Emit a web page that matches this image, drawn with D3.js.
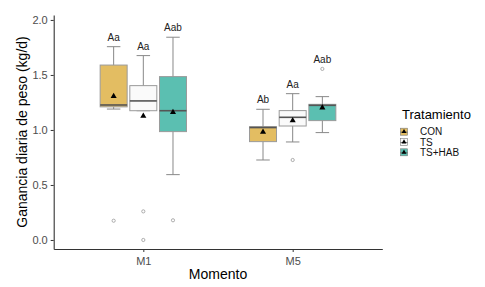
<!DOCTYPE html>
<html>

<head>
  <meta charset="utf8">
  <script src="https://d3js.org/d3.v7.min.js"></script>
  <style>
    body { margin: 0; background: #fff; }
    text { font-family: "Liberation Sans", Arial, sans-serif; }
    .axis text { fill: #4d4d4d; font-size: 11px; }
    .axis path, .axis line { stroke: #333; }
  </style>
</head>

<body>
  <svg id="chart" width="485" height="287"></svg>

  <script>
    // values
    var momentos = ['M1', 'M5'];
    var tratamientos = ['CON', 'TS', 'TS+HAB'];
    var colores = ['#e3bd62', '#fafafa', '#5bbfb1'];

    // one row per momento, one column per tratamiento
    var lowWhisker = [[1.19, 1.175, 0.594], [0.727, 0.891, 0.976]];
    var q1 = [[1.21, 1.175, 0.985], [0.894, 1.036, 1.085]];
    var median = [[1.227, 1.264, 1.175], [1.022, 1.115, 1.224]];
    var q3 = [[1.59, 1.403, 1.485], [1.03, 1.176, 1.233]];
    var highWhisker = [[1.757, 1.676, 1.843], [1.188, 1.33, 1.303]];
    var mean = [[1.306, 1.127, 1.16], [0.982, 1.085, 1.203]];
    var outliers = [[[0.175], [0.26, 0.0], [0.179]], [[], [0.727], [1.555]]];
    var letras = [['Aa', 'Aa', 'Aab'], ['Ab', 'Aa', 'Aab']];
    var yTicks = [0, 0.5, 1, 1.5, 2];

    var chart = d3.select('#chart');
    var panelLeft = 53.7, panelRight = 382.3, panelTop = 15, panelBottom = 249;

    var x = d3.scalePoint()
      .domain(momentos)
      .range([panelLeft, panelRight])
      .padding(0.6);

    var dodge = d3.scaleBand()
      .domain(tratamientos)
      .range([-44.5, 44.5]);

    var y = d3.scaleLinear()
      .domain([-0.082, 2.045])
      .range([panelBottom, panelTop]);

    var boxW = 27;

    var groups = [];
    momentos.forEach(function (m, i) {
      tratamientos.forEach(function (t, j) {
        groups.push({
          m: m, t: t, j: j,
          cx: x(m) + dodge(t) + dodge.bandwidth() / 2,
          lo: lowWhisker[i][j], q1: q1[i][j], med: median[i][j], q3: q3[i][j],
          hi: highWhisker[i][j], mean: mean[i][j], out: outliers[i][j], lab: letras[i][j]
        });
      });
    });

    var g = chart.selectAll('.grp').data(groups).enter().append('g').attr('class', 'grp');

    // whiskers
    g.append('line')
      .attr('x1', function (d) { return d.cx; }).attr('x2', function (d) { return d.cx; })
      .attr('y1', function (d) { return y(d.hi); }).attr('y2', function (d) { return y(d.lo); })
      .attr('stroke', '#888').attr('stroke-width', 1);
    ['hi', 'lo'].forEach(function (k) {
      g.append('line')
        .attr('x1', function (d) { return d.cx - boxW / 4; }).attr('x2', function (d) { return d.cx + boxW / 4; })
        .attr('y1', function (d) { return y(d[k]); }).attr('y2', function (d) { return y(d[k]); })
        .attr('stroke', '#888').attr('stroke-width', 1);
    });

    g.append('rect')
      .attr('x', function (d) { return d.cx - boxW / 2; })
      .attr('width', boxW)
      .attr('y', function (d) { return y(d.q3); })
      .attr('height', function (d) { return y(d.q1) - y(d.q3); })
      .attr('fill', function (d) { return colores[d.j]; })
      .attr('stroke', '#9a9a9a').attr('stroke-width', 1);

    g.append('line')
      .attr('x1', function (d) { return d.cx - boxW / 2; }).attr('x2', function (d) { return d.cx + boxW / 2; })
      .attr('y1', function (d) { return y(d.med); }).attr('y2', function (d) { return y(d.med); })
      .attr('stroke', '#555').attr('stroke-width', 1.6);

    g.append('path')
      .attr('d', d3.symbol(d3.symbolTriangle, 16))
      .attr('transform', function (d) { return 'translate(' + d.cx + ',' + y(d.mean) + ')'; })
      .attr('fill', '#000');

    g.each(function (d) {
      d3.select(this).selectAll('circle').data(d.out).enter().append('circle')
        .attr('cx', d.cx).attr('cy', function (v) { return y(v); })
        .attr('r', 1.6).attr('fill', 'none').attr('stroke', '#999').attr('stroke-width', 0.8);
    });

    g.append('text')
      .attr('x', function (d) { return d.cx; })
      .attr('y', function (d) { return y(d.out.length && d.out[0] > d.hi ? d.out[0] : d.hi) - 6; })
      .attr('text-anchor', 'middle')
      .style('font-size', '10px')
      .attr('fill', '#222')
      .text(function (d) { return d.lab; });

    // axes
    chart.append('g')
      .attr('class', 'axis')
      .attr('transform', 'translate(' + panelLeft + ',0)')
      .call(d3.axisLeft(y).tickValues(yTicks).tickFormat(d3.format('.1f')).tickSize(3).tickSizeOuter(0))
      .call(function (a) { a.select('.domain').attr('stroke-width', 1.1); });

    chart.append('g')
      .attr('class', 'axis')
      .attr('transform', 'translate(0,' + panelBottom + ')')
      .call(d3.axisBottom(x).tickSize(3).tickSizeOuter(0))
      .call(function (a) { a.select('.domain').attr('stroke-width', 1.1); })
      .selectAll('text').attr('dy', '0.95em');

    chart.append('text')
      .attr('transform', 'translate(22,' + (panelTop + panelBottom) / 2 + ') rotate(-90)')
      .attr('text-anchor', 'middle')
      .attr('dy', '0.35em')
      .style('font-size', '14px')
      .text('Ganancia diaria de peso (kg/d)');

    chart.append('text')
      .attr('x', (panelLeft + panelRight) / 2)
      .attr('y', 279)
      .attr('text-anchor', 'middle')
      .style('font-size', '14px')
      .text('Momento');

    // legend
    var legend = chart.append('g').attr('transform', 'translate(402,0)');
    legend.append('text')
      .attr('x', 0).attr('y', 119)
      .style('font-size', '13px')
      .text('Tratamiento');

    var key = legend.selectAll('.key').data(tratamientos).enter().append('g')
      .attr('transform', function (d, i) { return 'translate(0,' + (131.7 + i * 10.3) + ')'; });
    key.append('rect')
      .attr('x', -1.5).attr('y', -3.5).attr('width', 7).attr('height', 7)
      .attr('fill', function (d, i) { return colores[i]; })
      .attr('stroke', '#777').attr('stroke-width', 0.6);
    key.append('line')
      .attr('x1', -1.5).attr('x2', 5.5).attr('y1', 0.5).attr('y2', 0.5)
      .attr('stroke', '#555').attr('stroke-width', 0.8);
    key.append('path')
      .attr('d', d3.symbol(d3.symbolTriangle, 10))
      .attr('transform', 'translate(2,0)')
      .attr('fill', '#000');
    key.append('text')
      .attr('x', 18).attr('dy', '0.35em')
      .style('font-size', '10px')
      .attr('fill', '#111')
      .text(function (d) { return d; });
  </script>
</body>

</html>
